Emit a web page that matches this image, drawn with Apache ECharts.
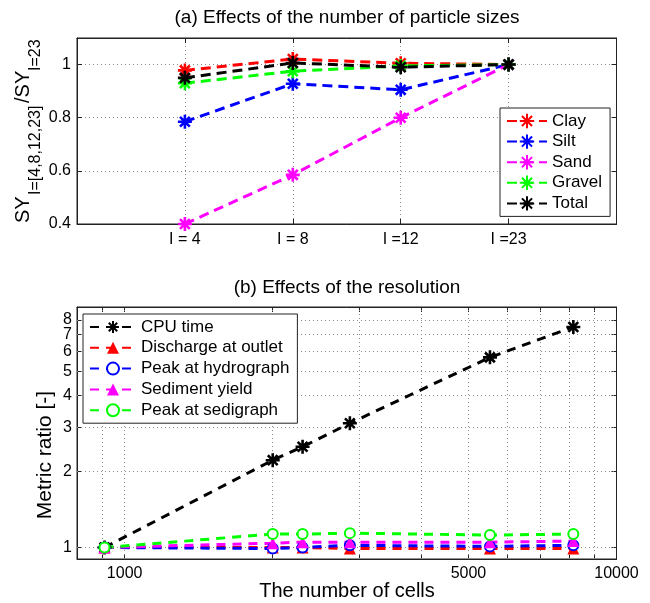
<!DOCTYPE html>
<html><head><meta charset="utf-8">
<script src="https://cdn.jsdelivr.net/npm/echarts@6/dist/echarts.min.js"></script>
<style>html,body{margin:0;padding:0;background:#fff}#c{width:650px;height:603px}</style>
</head><body><div id="c"></div>
<script>
// ---------- Data: (a) particle sizes ----------
const particleCats = ['I = 4', 'I = 8', 'I =12', 'I =23'];
const clay   = [0.978, 1.021, 1.005, 1.0];
const silt   = [0.785, 0.928, 0.905, 1.0];
const sand   = [0.40, 0.585, 0.80, 1.0];
const gravel = [0.93, 0.975, 0.995, 1.0];
const total  = [0.95, 1.006, 0.99, 1.0];

// ---------- Data: (b) resolution ----------
const cells     = [910, 2000, 2300, 2870, 5530, 8170];
const cpuTime   = [1.0, 2.22, 2.51, 3.11, 5.68, 7.5];
const discharge = [1.0, 1.0, 1.0, 0.99, 0.99, 0.99];
const peakHydro = [1.0, 0.99, 1.0, 1.02, 1.01, 1.02];
const sediment  = [1.0, 1.04, 1.05, 1.05, 1.05, 1.06];
const peakSedi  = [1.0, 1.13, 1.13, 1.14, 1.12, 1.13];

// tick / grid values of panel (b)
const yTicksB  = [1, 2, 3, 4, 5, 6, 7, 8];
const xGridB   = [900, 1000, 2000, 3000, 4000, 5000, 6000, 7000, 8000, 9000];
const xLabelsB = [1000, 5000, 10000];

const FONT = 'Liberation Sans, Arial, Helvetica, sans-serif';
const STAR = 'path://M10,0L10,20M0,10L20,10M3,3L17,17M3,17L17,3';
const gridLine = { color: '#8a8a8a', type: [1, 3], width: 1 };
const axisCol = '#222';

const catAxisData = [''].concat(particleCats, ['']);
const pad = arr => [null].concat(arr, [null]);

function topSeries(name, color, vals) {
  return {
    name, type: 'line', xAxisIndex: 0, yAxisIndex: 0,
    data: pad(vals), symbol: STAR, symbolSize: 14,
    itemStyle: { color, borderColor: color, borderWidth: 2.6 },
    lineStyle: { color, width: 3, type: [10, 6] },
    connectNulls: false
  };
}
function botSeries(name, color, vals, symbol, size, extra) {
  let itemStyle;
  if (symbol === 'emptyCircle') itemStyle = { color, borderColor: color, borderWidth: 2.6 };
  else if (symbol === STAR) itemStyle = { color, borderColor: color, borderWidth: 2.6 };
  else itemStyle = { color, borderColor: color, borderWidth: 0 };
  return Object.assign({
    name, type: 'line', xAxisIndex: 2, yAxisIndex: 2,
    data: cells.map((c, i) => [c, vals[i]]),
    symbol, symbolSize: size, itemStyle,
    lineStyle: { color, width: 3, type: [9, 7] }
  }, extra || {});
}

const labStyle = { fontSize: 16, fontFamily: FONT, color: '#000' };
const clear = { color: 'rgba(0,0,0,0)', width: 0 };

const markLineB = {
  silent: true, symbol: ['none', 'none'], animation: false, z: 1,
  lineStyle: gridLine,
  label: { show: false },
  data: xGridB.map(v => ({
      xAxis: v,
      label: Object.assign({ show: xLabelsB.includes(v), position: 'start', distance: 7, formatter: String(v) }, labStyle)
    }))
    .concat(xLabelsB.filter(v => !xGridB.includes(v)).map(v => ({
      xAxis: v * 0.9999, lineStyle: clear,
      label: Object.assign({ show: true, position: 'start', distance: 7, formatter: String(v) }, labStyle)
    })))
    .concat(yTicksB.map(v => ({
      yAxis: v,
      label: Object.assign({ show: true, position: 'start', distance: 5, formatter: String(v) }, labStyle)
    })))
};

const tickB = vals => ({ show: true, inside: true, length: 5, customValues: vals, lineStyle: { color: axisCol } });

const chart = echarts.init(document.getElementById('c'), null, { renderer: 'canvas' });
chart.setOption({
  animation: false,
  backgroundColor: '#fff',
  title: [
    { text: '(a) Effects of the number of particle sizes', left: 347, top: 8, textAlign: 'center', padding: 0,
      textStyle: { fontSize: 19, fontWeight: 'normal', fontFamily: FONT, color: '#000' } },
    { text: '(b) Effects of the resolution', left: 347, top: 278, textAlign: 'center', padding: 0,
      textStyle: { fontSize: 19, fontWeight: 'normal', fontFamily: FONT, color: '#000' } }
  ],
  grid: [
    { left: 77, right: 33.5, top: 38, bottom: 603 - 224, show: true, borderColor: axisCol, borderWidth: 1, containLabel: false },
    { left: 77, right: 33.5, top: 307, bottom: 603 - 559, show: true, borderColor: axisCol, borderWidth: 1, containLabel: false }
  ],
  legend: [
    { data: ['Clay', 'Silt', 'Sand', 'Gravel', 'Total'], orient: 'vertical', left: 500, top: 108,
      backgroundColor: '#fff', borderColor: axisCol, borderWidth: 1, padding: [4, 8, 4, 6],
      itemWidth: 40, itemHeight: 18, itemGap: 2.6, selectedMode: false,
      textStyle: { fontSize: 17, fontFamily: FONT, color: '#000', lineHeight: 18 } },
    { data: ['CPU time', 'Discharge at outlet', 'Peak at hydrograph', 'Sediment yield', 'Peak at sedigraph'],
      orient: 'vertical', left: 83, top: 314,
      backgroundColor: '#fff', borderColor: axisCol, borderWidth: 1, padding: [4, 8, 4, 6],
      itemWidth: 46, itemHeight: 15, itemGap: 2.8, selectedMode: false,
      textStyle: { fontSize: 17, fontFamily: FONT, color: '#000', lineHeight: 18 } }
  ],
  xAxis: [
    { gridIndex: 0, type: 'category', data: catAxisData, boundaryGap: false, position: 'bottom',
      axisLine: { lineStyle: { color: axisCol } },
      axisTick: { inside: true, length: 5, lineStyle: { color: axisCol } },
      axisLabel: Object.assign({ margin: 8, interval: 0 }, labStyle),
      splitLine: { show: true, lineStyle: gridLine } },
    { gridIndex: 0, type: 'category', data: catAxisData, boundaryGap: false, position: 'top',
      axisLine: { lineStyle: { color: axisCol } },
      axisTick: { inside: true, length: 5, lineStyle: { color: axisCol } },
      axisLabel: { show: false }, splitLine: { show: false } },
    { gridIndex: 1, type: 'log', logBase: 10, min: 800, max: 10000, position: 'bottom',
      axisLine: { lineStyle: { color: axisCol } },
      axisTick: tickB(xGridB),
      axisLabel: { show: false }, splitLine: { show: false }, minorSplitLine: { show: false } },
    { gridIndex: 1, type: 'log', logBase: 10, min: 800, max: 10000, position: 'top',
      axisLine: { lineStyle: { color: axisCol } },
      axisTick: tickB(xGridB), axisLabel: { show: false }, splitLine: { show: false } }
  ],
  yAxis: [
    { gridIndex: 0, type: 'value', min: 0.4, max: 1.1, interval: 0.2, position: 'left',
      axisLine: { show: true, lineStyle: { color: axisCol } },
      axisTick: { show: true, inside: true, length: 5, lineStyle: { color: axisCol } },
      axisLabel: Object.assign({ margin: 6, showMaxLabel: false }, labStyle),
      splitLine: { show: true, lineStyle: gridLine } },
    { gridIndex: 0, type: 'value', min: 0.4, max: 1.1, interval: 0.2, position: 'right',
      axisLine: { show: true, lineStyle: { color: axisCol } },
      axisTick: { show: true, inside: true, length: 5, lineStyle: { color: axisCol } },
      axisLabel: { show: false }, splitLine: { show: false } },
    { gridIndex: 1, type: 'log', logBase: 10, min: 0.9, max: 9, position: 'left',
      axisLine: { show: true, lineStyle: { color: axisCol } },
      axisTick: tickB(yTicksB), axisLabel: { show: false }, splitLine: { show: false } },
    { gridIndex: 1, type: 'log', logBase: 10, min: 0.9, max: 9, position: 'right',
      axisLine: { show: true, lineStyle: { color: axisCol } },
      axisTick: tickB(yTicksB), axisLabel: { show: false }, splitLine: { show: false } }
  ],
  series: [
    topSeries('Clay', '#ff0000', clay),
    topSeries('Silt', '#0000ff', silt),
    topSeries('Sand', '#ff00ff', sand),
    topSeries('Gravel', '#00ff00', gravel),
    topSeries('Total', '#000000', total),
    botSeries('CPU time', '#000000', cpuTime, STAR, 14, { markLine: markLineB }),
    botSeries('Discharge at outlet', '#ff0000', discharge, 'triangle', 12),
    botSeries('Peak at hydrograph', '#0000ff', peakHydro, 'emptyCircle', 10),
    botSeries('Sediment yield', '#ff00ff', sediment, 'triangle', 12),
    botSeries('Peak at sedigraph', '#00ff00', peakSedi, 'emptyCircle', 10)
  ],
  graphic: [
    { type: 'group', x: 23, y: 223, rotation: Math.PI / 2, silent: true, children: [
      { type: 'text', x: 0, y: 0, style: { text: 'SY', fontSize: 20, fontFamily: FONT, fill: '#000', verticalAlign: 'middle', align: 'left' } },
      { type: 'text', x: 28, y: 13, style: { text: 'I=[4,8,12,23]', fontSize: 16, fontFamily: FONT, fill: '#000', verticalAlign: 'middle', align: 'left' } },
      { type: 'text', x: 120, y: 0, style: { text: '/SY', fontSize: 20, fontFamily: FONT, fill: '#000', verticalAlign: 'middle', align: 'left' } },
      { type: 'text', x: 152, y: 13, style: { text: 'I=23', fontSize: 16, fontFamily: FONT, fill: '#000', verticalAlign: 'middle', align: 'left' } }
    ]},
    { type: 'text', x: 45, y: 455, rotation: Math.PI / 2, silent: true,
      style: { text: 'Metric ratio [-]', fontSize: 21, fontFamily: FONT, fill: '#000', align: 'center', verticalAlign: 'middle' } },
    { type: 'text', x: 347, y: 591, silent: true,
      style: { text: 'The number of cells', fontSize: 20, fontFamily: FONT, fill: '#000', align: 'center', verticalAlign: 'middle' } }
  ]
});
</script></body></html>
